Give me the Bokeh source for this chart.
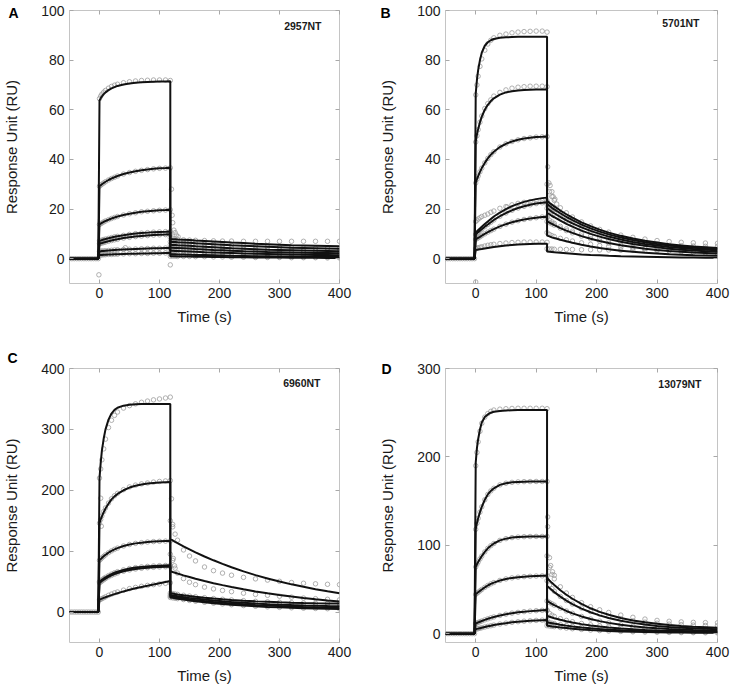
from bokeh.plotting import figure
from bokeh.models import Range1d, FixedTicker, LinearAxis, Label
from bokeh.layouts import gridplot
from bokeh.embed import file_html
from bokeh.resources import INLINE

# ---------------- data ----------------
TIME_TICKS = [0, 100, 200, 300, 400]
BASE_T = [-50, -46, -42, -38, -34, -30, -26, -22, -18, -14, -10, -6, -2]
BASE_Y = [0.0, 0.0, 0.0, 0.0, 0.0, 0.0, 0.0, 0.0, 0.0, 0.0, 0.0, 0.0, 0.0]
TA = [0, 2, 4, 7, 10, 15, 20, 25, 30, 40, 50, 60, 70, 80, 90, 100, 110, 118]
TD = [118, 122, 126, 130, 140, 150, 160, 175, 190, 205, 220, 240, 260, 280, 300, 320, 340, 360, 380, 400]

# Panel A  (2957NT)
A_ASSOC = [
    [63.7, 64.6, 65.4, 66.3, 67.0, 67.9, 68.6, 69.1, 69.6, 70.2, 70.6, 70.9, 71.1, 71.2, 71.3, 71.4, 71.4, 71.5],
    [29.2, 29.6, 30.0, 30.5, 31.0, 31.7, 32.3, 32.8, 33.3, 34.1, 34.7, 35.2, 35.6, 35.9, 36.2, 36.4, 36.5, 36.6],
    [13.8, 14.1, 14.4, 14.8, 15.2, 15.7, 16.2, 16.6, 17.0, 17.6, 18.1, 18.5, 18.9, 19.1, 19.3, 19.5, 19.6, 19.7],
    [7.2, 7.3, 7.5, 7.7, 7.9, 8.2, 8.5, 8.8, 9.0, 9.4, 9.8, 10.1, 10.3, 10.5, 10.7, 10.8, 10.9, 11.0],
    [6.0, 6.2, 6.3, 6.5, 6.7, 7.0, 7.3, 7.6, 7.8, 8.3, 8.6, 8.9, 9.1, 9.3, 9.5, 9.6, 9.7, 9.8],
    [3.0, 3.0, 3.1, 3.1, 3.2, 3.3, 3.4, 3.5, 3.6, 3.7, 3.8, 3.9, 4.0, 4.1, 4.2, 4.2, 4.3, 4.3],
    [1.5, 1.5, 1.5, 1.6, 1.6, 1.7, 1.7, 1.8, 1.8, 1.9, 2.0, 2.0, 2.1, 2.1, 2.2, 2.2, 2.3, 2.3],
]
A_DISS = [
    [7.9, 7.8, 7.8, 7.7, 7.6, 7.5, 7.3, 7.1, 6.9, 6.7, 6.5, 6.3, 6.0, 5.8, 5.6, 5.4, 5.3, 5.2, 5.1, 5.0],
    [6.8, 6.7, 6.7, 6.6, 6.5, 6.4, 6.2, 6.0, 5.8, 5.6, 5.4, 5.2, 5.0, 4.8, 4.6, 4.4, 4.3, 4.2, 4.1, 4.0],
    [5.6, 5.5, 5.5, 5.4, 5.3, 5.2, 5.0, 4.8, 4.6, 4.4, 4.2, 4.0, 3.8, 3.6, 3.5, 3.4, 3.3, 3.2, 3.1, 3.0],
    [4.4, 4.4, 4.3, 4.3, 4.2, 4.1, 3.9, 3.7, 3.5, 3.4, 3.2, 3.0, 2.9, 2.7, 2.6, 2.5, 2.4, 2.3, 2.3, 2.2],
    [3.2, 3.2, 3.1, 3.1, 3.0, 2.9, 2.8, 2.6, 2.5, 2.4, 2.3, 2.1, 2.0, 1.9, 1.8, 1.7, 1.6, 1.5, 1.5, 1.4],
    [1.8, 1.8, 1.8, 1.7, 1.7, 1.6, 1.5, 1.5, 1.4, 1.3, 1.2, 1.1, 1.0, 1.0, 0.9, 0.9, 0.8, 0.8, 0.7, 0.7],
    [1.0, 1.0, 1.0, 0.9, 0.9, 0.9, 0.8, 0.8, 0.7, 0.7, 0.6, 0.6, 0.5, 0.5, 0.5, 0.4, 0.4, 0.4, 0.3, 0.3],
]
A_OBS_ASSOC = {0: [64.5, 65.5, 66.3, 67.1, 67.8, 68.7, 69.4, 69.9, 70.3, 70.9, 71.3, 71.6, 71.8, 71.9, 72.0, 72.0, 72.0, 71.8]}
A_OBS_DISS = {0: [8.5, 8.2, 8.0, 7.8, 7.6, 7.5, 7.4, 7.3, 7.2, 7.1, 7.1, 7.0, 7.0, 7.0, 7.0, 7.0, 7.0, 7.0, 7.0, 7.0]}
A_SPIKE_T = [-1, 43, 118, 120, 121, 122, 124, 126, 128, 131]
A_SPIKE_Y = [-6.5, 4.4, -2.5, 28.0, 17.5, 14.5, 11.5, 10.5, 9.5, 8.8]

# Panel B  (5701NT)
B_ASSOC = [
    [66.5, 72.0, 76.0, 80.0, 83.0, 85.8, 87.2, 88.0, 88.5, 89.0, 89.2, 89.3, 89.4, 89.4, 89.4, 89.4, 89.4, 89.4],
    [47.2, 50.0, 52.2, 55.0, 57.2, 60.0, 62.0, 63.5, 64.6, 66.1, 67.0, 67.5, 67.8, 68.0, 68.1, 68.2, 68.2, 68.2],
    [30.5, 32.0, 33.3, 35.0, 36.5, 38.6, 40.4, 41.9, 43.1, 45.0, 46.3, 47.2, 47.9, 48.4, 48.7, 49.0, 49.1, 49.2],
    [10.5, 11.0, 11.5, 12.2, 12.9, 14.0, 15.0, 16.0, 17.0, 18.6, 20.0, 21.2, 22.1, 22.9, 23.5, 24.0, 24.4, 24.6],
    [9.8, 10.2, 10.7, 11.3, 11.9, 12.9, 13.8, 14.7, 15.6, 17.1, 18.4, 19.5, 20.4, 21.1, 21.7, 22.2, 22.5, 22.7],
    [7.8, 8.1, 8.4, 8.8, 9.3, 10.0, 10.7, 11.3, 11.9, 13.0, 13.9, 14.7, 15.3, 15.8, 16.2, 16.5, 16.8, 16.9],
    [3.5, 3.6, 3.7, 3.8, 3.9, 4.1, 4.3, 4.5, 4.7, 5.0, 5.3, 5.5, 5.7, 5.8, 5.9, 6.0, 6.0, 6.0],
]
B_DISS = [
    [23.3, 22.5, 21.8, 21.1, 19.4, 17.9, 16.5, 14.6, 13.1, 11.7, 10.5, 9.2, 8.1, 7.2, 6.5, 5.8, 5.3, 4.9, 4.6, 4.3],
    [22.0, 21.3, 20.5, 19.9, 18.3, 16.8, 15.5, 13.7, 12.2, 10.9, 9.8, 8.5, 7.5, 6.6, 5.9, 5.3, 4.8, 4.4, 4.1, 3.8],
    [20.3, 19.6, 18.9, 18.3, 16.8, 15.4, 14.2, 12.6, 11.2, 10.0, 8.9, 7.7, 6.7, 5.9, 5.3, 4.7, 4.3, 3.9, 3.6, 3.4],
    [18.5, 17.9, 17.2, 16.7, 15.3, 14.0, 12.9, 11.3, 10.0, 8.9, 7.9, 6.8, 5.9, 5.2, 4.6, 4.0, 3.6, 3.3, 3.0, 2.8],
    [15.0, 14.5, 14.0, 13.5, 12.3, 11.3, 10.4, 9.1, 8.0, 7.1, 6.3, 5.4, 4.7, 4.0, 3.5, 3.1, 2.8, 2.5, 2.3, 2.1],
    [9.3, 9.0, 8.6, 8.3, 7.6, 7.0, 6.4, 5.6, 4.9, 4.3, 3.8, 3.2, 2.8, 2.4, 2.1, 1.8, 1.6, 1.4, 1.3, 1.2],
    [2.9, 2.8, 2.7, 2.6, 2.4, 2.2, 2.0, 1.7, 1.5, 1.4, 1.2, 1.0, 0.9, 0.8, 0.7, 0.6, 0.5, 0.5, 0.4, 0.4],
]
B_OBS_ASSOC = {
    0: [66.0, 70.0, 73.5, 77.5, 80.5, 84.0, 86.5, 88.0, 89.0, 90.0, 90.5, 91.0, 91.3, 91.5, 91.6, 91.7, 91.7, 91.3],
    1: [47.0, 49.5, 52.0, 55.0, 57.5, 60.5, 62.5, 64.0, 65.5, 67.0, 68.0, 68.7, 69.1, 69.3, 69.5, 69.5, 69.5, 69.3],
    3: [15.0, 15.5, 16.0, 16.5, 17.0, 17.5, 18.0, 18.7, 19.2, 20.3, 21.0, 21.7, 22.3, 22.7, 23.0, 23.2, 23.3, 23.3],
    6: [4.0, 4.2, 4.4, 4.6, 4.8, 5.1, 5.4, 5.6, 5.8, 6.1, 6.3, 6.5, 6.6, 6.7, 6.7, 6.7, 6.7, 6.6],
}
B_OBS_DISS = {
    0: [30.0, 27.0, 25.0, 23.5, 20.5, 18.5, 16.8, 14.8, 13.2, 11.8, 10.7, 9.5, 8.6, 7.9, 7.3, 6.9, 6.6, 6.4, 6.3, 6.2],
    3: [16.5, 15.5, 14.8, 14.2, 13.0, 12.0, 11.1, 10.0, 9.1, 8.3, 7.6, 6.8, 6.2, 5.8, 5.5, 5.3, 5.2, 5.1, 5.0, 5.0],
    5: [10.5, 9.8, 9.3, 8.9, 8.2, 7.6, 7.1, 6.4, 5.8, 5.3, 4.9, 4.5, 4.2, 4.0, 3.9, 3.8, 3.8, 3.7, 3.7, 3.7],
    6: [4.0, 3.9, 3.9, 3.8, 3.8, 3.7, 3.7, 3.6, 3.6, 3.5, 3.5, 3.4, 3.4, 3.3, 3.3, 3.2, 3.2, 3.2, 3.1, 3.1],
}
B_SPIKE_T = [0, 52, 119, 121, 123, 126, 128, 131, 134]
B_SPIKE_Y = [-9.4, 20.8, 37.0, 30.5, 29.5, 27.0, 25.0, 24.0, 22.0]

# Panel C  (6960NT)
C_ASSOC = [
    [220, 245, 265, 285, 300, 316, 326, 332, 335.5, 339, 340.5, 341.2, 341.5, 341.6, 341.7, 341.7, 341.7, 341.7],
    [146, 152, 157, 164, 170, 178, 185, 190, 194, 200, 204.5, 207.5, 209.5, 211, 212, 212.7, 213.2, 213.4],
    [85, 87, 89, 91.5, 94, 97.5, 100.5, 103, 105, 108.5, 111, 112.8, 114, 115, 115.7, 116.2, 116.5, 116.7],
    [50, 51.5, 53, 55, 57, 59.8, 62.3, 64.5, 66.3, 69.3, 71.5, 73, 74.2, 75, 75.7, 76.2, 76.5, 76.7],
    [48, 49.5, 51, 53, 55, 57.8, 60.2, 62.3, 64.1, 67, 69.1, 70.7, 71.9, 72.8, 73.5, 74, 74.4, 74.6],
    [20.5, 21.3, 22, 23.2, 24.3, 26.1, 27.8, 29.4, 31, 33.9, 36.6, 39, 41.2, 43.2, 45.3, 47.4, 49.5, 51],
]
C_DISS = [
    [120, 117.7, 115.4, 113.3, 108, 103, 98, 91.2, 85, 79.1, 73.6, 66.8, 60.7, 55.1, 50.2, 45.5, 41.4, 37.6, 34.1, 31.0],
    [67, 65.7, 64.5, 63.2, 60.3, 57.5, 54.7, 50.9, 47.4, 44.2, 41.1, 37.3, 33.9, 30.8, 28.0, 25.4, 23.1, 21.0, 19.0, 17.3],
    [31, 30.3, 29.6, 29.0, 27.6, 26.3, 25.2, 23.6, 22.2, 21.0, 19.9, 18.7, 17.6, 16.8, 16.0, 15.4, 14.9, 14.5, 14.2, 14.0],
    [28, 27.3, 26.6, 26.0, 24.6, 23.3, 22.1, 20.5, 19.0, 17.7, 16.6, 15.2, 14.0, 13.0, 12.2, 11.5, 10.9, 10.4, 10.0, 9.7],
    [26, 25.3, 24.6, 24.0, 22.5, 21.1, 19.9, 18.2, 16.7, 15.4, 14.2, 12.8, 11.6, 10.6, 9.8, 9.1, 8.5, 8.0, 7.6, 7.3],
    [24, 23.3, 22.6, 22.0, 20.5, 19.1, 17.8, 16.1, 14.6, 13.3, 12.1, 10.7, 9.5, 8.5, 7.7, 7.0, 6.4, 5.9, 5.5, 5.2],
]
C_OBS_ASSOC = {
    0: [220, 235, 250, 268, 284, 303, 315, 323, 328.5, 335, 339, 342, 344.5, 346.5, 348.5, 350, 351.5, 353],
    1: [146, 152, 158, 165, 171, 179, 186, 191, 195, 201, 205.5, 208.5, 210.5, 212, 213.5, 214.5, 215.3, 216],
    5: [20, 21, 22, 23.5, 25, 27.5, 29.5, 31.5, 33, 36, 38.5, 40.5, 42.3, 43.8, 45, 46.2, 47.2, 48],
}
C_OBS_DISS = {
    0: [150, 140, 128, 118, 102, 92, 84, 74, 68, 64, 60.5, 57, 54.5, 52.5, 50.5, 48.5, 47.3, 46.4, 45.6, 45],
    1: [95, 85, 72, 64, 55, 49, 45, 41, 38, 35.5, 33.5, 31, 29, 27.5, 26, 24.5, 23, 22, 21, 20],
}
C_SPIKE_T = [2, 3, 120, 122, 123, 125]
C_SPIKE_Y = [187, 141, 186, 144, 88, 76]

# Panel D  (13079NT)
D_ASSOC = [
    [193.6, 210, 220, 231, 239, 245, 248, 250, 251, 252, 252.5, 252.8, 253, 253, 253, 253, 253, 253],
    [118, 125, 130.5, 137.5, 143.5, 151.5, 157.5, 161.5, 164.5, 168.3, 170.2, 171.2, 171.7, 172, 172.1, 172.2, 172.2, 172.2],
    [75.5, 78.5, 81, 84.5, 87.8, 92.5, 96.5, 99.5, 102, 105.5, 107.5, 108.7, 109.3, 109.7, 109.9, 110, 110, 110],
    [44.5, 45.7, 46.8, 48.4, 50, 52.4, 54.5, 56.3, 57.8, 60.2, 61.9, 63.1, 63.9, 64.5, 64.9, 65.2, 65.4, 65.5],
    [11.5, 12.1, 12.7, 13.5, 14.3, 15.6, 16.8, 17.9, 18.9, 20.6, 22, 23.2, 24.1, 24.9, 25.5, 26, 26.4, 26.7],
    [5, 5.4, 5.7, 6.2, 6.7, 7.5, 8.3, 9, 9.7, 10.9, 11.9, 12.8, 13.5, 14.1, 14.6, 15, 15.3, 15.5],
]
D_DISS = [
    [63, 60.2, 57.5, 55, 49.1, 44, 39.5, 33.6, 28.7, 24.7, 21.4, 17.8, 15, 12.8, 11.1, 9.8, 8.7, 7.9, 7.3, 6.7],
    [54, 51.6, 49.3, 47.0, 41.9, 37.4, 33.5, 28.4, 24.2, 20.7, 17.7, 14.6, 12.2, 10.3, 8.8, 7.6, 6.7, 6.0, 5.5, 5.0],
    [37, 35.3, 33.8, 32.2, 28.8, 25.7, 23.0, 19.5, 16.6, 14.2, 12.2, 10.1, 8.4, 7.1, 6.1, 5.3, 4.7, 4.2, 3.8, 3.5],
    [20, 19.1, 18.3, 17.5, 15.7, 14.0, 12.6, 10.8, 9.2, 8.0, 6.9, 5.8, 4.9, 4.2, 3.7, 3.3, 3.0, 2.7, 2.5, 2.3],
    [13, 12.4, 11.9, 11.4, 10.2, 9.1, 8.2, 7.0, 6.0, 5.2, 4.5, 3.8, 3.2, 2.8, 2.4, 2.2, 2.0, 1.8, 1.7, 1.6],
    [9, 8.6, 8.2, 7.9, 7.0, 6.3, 5.6, 4.8, 4.1, 3.5, 3.0, 2.5, 2.1, 1.8, 1.6, 1.4, 1.2, 1.1, 1.0, 0.9],
]
D_OBS_ASSOC = {
    0: [190, 205, 217, 229, 238, 245, 249, 251.5, 253, 254, 254.5, 254.8, 255, 255, 255, 255, 255, 254.5],
}
D_OBS_DISS = {
    0: [88, 75, 67, 62, 53, 46, 41, 35, 30.5, 27, 24, 21, 18.5, 16.5, 15, 14, 13.3, 12.8, 12.5, 12.3],
    1: [60, 55, 51, 48, 42, 37.5, 33.5, 29, 25, 22, 19.5, 16.8, 14.5, 13, 11.8, 10.8, 10.2, 9.7, 9.3, 9.0],
    3: [26, 23, 21, 19.5, 17, 15, 13.5, 11.5, 10, 8.8, 7.8, 6.8, 6.2, 5.8, 5.5, 5.3, 5.2, 5.1, 5.0, 5.0],
}
D_SPIKE_T = [119, 119, 122, 124, 127, 130]
D_SPIKE_Y = [132, 121, 86, 77, 70, 66]

FONT = "Liberation Sans"
FRAME_GREY = "#c4c4c4"
TICK_GREY = "#a8a8a8"
DOT_GREY = "#9c9c9c"


def style_axis(ax, font_size="14px"):
    ax.major_tick_in = 4
    ax.major_tick_out = 0
    ax.minor_tick_in = 0
    ax.minor_tick_out = 0
    ax.axis_line_color = None
    ax.major_tick_line_color = TICK_GREY
    ax.major_tick_line_width = 1
    ax.major_label_text_font = FONT
    ax.major_label_text_font_size = font_size
    ax.major_label_text_color = "#1a1a1a"
    ax.axis_label_text_font = FONT
    ax.axis_label_text_font_size = "15px"
    ax.axis_label_text_font_style = "normal"
    ax.axis_label_text_color = "#1a1a1a"


def tick_only_axis(ticks):
    ax = LinearAxis(ticker=FixedTicker(ticks=ticks))
    style_axis(ax, "1px")
    ax.major_label_text_color = None
    ax.major_label_standoff = 0
    return ax


def panel(letter, tag, ylo, yhi, yticks, assoc, diss, obs_a, obs_d, sp_t, sp_y,
          width, height, bl, br, bt, bb, letter_side, letter_off, tag_off):
    p = figure(width=width, height=height, x_range=Range1d(-50, 400), y_range=Range1d(ylo, yhi),
               output_backend="svg", toolbar_location=None,
               min_border_left=bl, min_border_right=br, min_border_top=bt, min_border_bottom=bb)
    p.grid.visible = False
    p.outline_line_color = FRAME_GREY
    p.outline_line_width = 1
    p.background_fill_color = "white"
    p.border_fill_color = "white"

    xa = p.xaxis[0]
    ya = p.yaxis[0]
    xa.ticker = FixedTicker(ticks=TIME_TICKS)
    ya.ticker = FixedTicker(ticks=yticks)
    style_axis(xa)
    style_axis(ya)
    xa.axis_label = "Time (s)"
    xa.major_label_standoff = 4
    xa.axis_label_standoff = 7
    ya.axis_label = "Response Unit (RU)"
    ya.major_label_standoff = 5
    ya.axis_label_standoff = 18

    p.add_layout(tick_only_axis(TIME_TICKS), "above")
    p.add_layout(tick_only_axis(yticks), "right")

    # measured points (grey open circles)
    p.scatter(BASE_T, BASE_Y, marker="circle", size=4.5, fill_color=None,
              line_color=DOT_GREY, line_width=0.8)
    for i in range(len(assoc)):
        ya_obs = obs_a.get(i, assoc[i])
        yd_obs = obs_d.get(i, diss[i])
        p.scatter(TA + TD, ya_obs + yd_obs, marker="circle", size=4.5, fill_color=None,
                  line_color=DOT_GREY, line_width=0.8)
    p.scatter(sp_t, sp_y, marker="circle", size=4.5, fill_color=None,
              line_color=DOT_GREY, line_width=0.8)

    # fitted curves (black lines)
    for i in range(len(assoc)):
        p.line(BASE_T + TA + TD, BASE_Y + assoc[i] + diss[i],
               line_color="#111111", line_width=2)

    # panel letter lives in a side panel (so it is not clipped to the frame)
    p.add_layout(Label(x=-50, y=yhi, x_offset=letter_off[0], y_offset=letter_off[1], text=letter,
                       text_font=FONT, text_font_size="14px", text_font_style="bold",
                       text_align="left", text_baseline="middle", text_color="#000000"),
                 letter_side)
    p.add_layout(Label(x=400, y=yhi, x_offset=tag_off[0], y_offset=tag_off[1], text=tag,
                       text_font=FONT, text_font_size="10.5px", text_font_style="bold",
                       text_align="right", text_baseline="middle", text_color="#1a1a1a"))
    return p


W1, W2 = 365, 366
H1, H2 = 335, 351

pA = panel("A", "2957NT", -10, 100, [0, 20, 40, 60, 80, 100], A_ASSOC, A_DISS, A_OBS_ASSOC, A_OBS_DISS,
           A_SPIKE_T, A_SPIKE_Y, W1, H1, 65, 26, 10, 52, "right", (-61, -2), (-18, -15.6))
pB = panel("B", "5701NT", -10, 100, [0, 20, 40, 60, 80, 100], B_ASSOC, B_DISS, B_OBS_ASSOC, B_OBS_DISS,
           B_SPIKE_T, B_SPIKE_Y, W2, H1, 80, 14, 10, 52, "left", (-65, -2.5), (-18, -12))
pC = panel("C", "6960NT", -50, 400, [0, 100, 200, 300, 400], C_ASSOC, C_DISS, C_OBS_ASSOC, C_OBS_DISS,
           C_SPIKE_T, C_SPIKE_Y, W1, H2, 65, 26, 33, 44, "right", (-62, 10.5), (-19, -14.7))
pD = panel("D", "13079NT", -10, 300, [0, 100, 200, 300], D_ASSOC, D_DISS, D_OBS_ASSOC, D_OBS_DISS,
           D_SPIKE_T, D_SPIKE_Y, W2, H2, 80, 14, 33, 44, "left", (-64, 0), (-16, -15.5))

grid = gridplot([[pA, pB], [pC, pD]], toolbar_location=None)

open("out.html", "w").write(file_html(grid, INLINE))
